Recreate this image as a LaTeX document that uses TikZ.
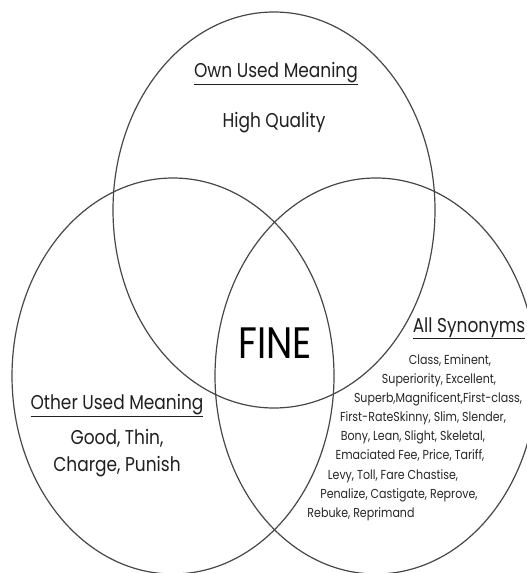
\documentclass[tikz,border=0pt]{standalone}
\usepackage{fontspec}
\setmainfont{Poppins}[FakeStretch=0.85]
\usepackage{xcolor}

\begin{document}
\begin{tikzpicture}[x=1pt, y=-1pt,
  venn/.style={draw=black!72, line width=1.2pt},
  head/.style={anchor=base, inner sep=0pt, text=black!88, font=\fontsize{20}{23}\selectfont},
  word/.style={anchor=base, inner sep=0pt, text=black!85, font=\fontsize{13}{15}\selectfont}]

\useasboundingbox (0,0) rectangle (527,573);

% Draw the three sets
\draw[venn] (274,210) ellipse [x radius=161, y radius=198];
\draw[venn] (173,376) ellipse [x radius=161, y radius=198];
\draw[venn] (376,376) ellipse [x radius=161, y radius=198];

% Heads of the sets
\node[head] (own)    at (276, 77) {\underline{Own Used Meaning}};
\node[head] (high)   at (274,127) {High Quality};
\node[head] (other)  at (117,409) {\underline{Other Used Meaning}};
\node[head] (good)   at (117,444) {Good, Thin,};
\node[head] (charge) at (117,471) {Charge, Punish};
\node[head] (allsyn) at (469,332) {\underline{All Synonyms}};

% The word in the middle
\node[anchor=base, inner sep=0pt, font=\fontsize{44}{48}\selectfont] (fine) at (275,358) {FINE};

% Synonyms, one line each
\foreach \i/\x/\y/\t in {
  1/450/364/{Class, Eminent,},
  2/439/383/{Superiority, Excellent,},
  3/438/402/{Superb,Magnificent,First-class,},
  4/423/421/{First-RateSkinny, Slim, Slender,},
  5/413/440/{Bony, Lean, Slight, Skeletal,},
  6/410/459/{Emaciated Fee, Price, Tariff,},
  7/393/479/{Levy, Toll, Fare Chastise,},
  8/399/498/{Penalize, Castigate, Reprove,},
  9/361/517/{Rebuke, Reprimand}}
  \node[word] (syn\i) at (\x,\y) {\t};

\end{tikzpicture}
\end{document}
